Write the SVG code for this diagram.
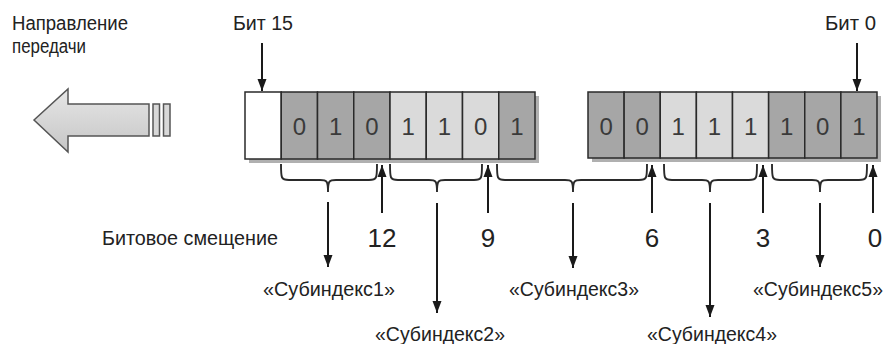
<svg xmlns="http://www.w3.org/2000/svg" width="886" height="344" viewBox="0 0 886 344">
<style>
text{font-family:"Liberation Sans",Arial,sans-serif;fill:#222}
.lbl{font-size:19.5px}
.num{font-size:26px;text-anchor:middle}
.bit{font-size:24px;text-anchor:middle;fill:#3a3a3a}
.dk{fill:#a6a6a6;stroke:#2a2a2a;stroke-width:1.5}
.lt{fill:#dadada;stroke:#2a2a2a;stroke-width:1.5}
.wh{fill:#ffffff;stroke:#2a2a2a;stroke-width:1.5}
.sh{fill:#b0b0b0}
.br{fill:none;stroke:#2a2a2a;stroke-width:1.9}
.ar{stroke:#1a1a1a;stroke-width:2;fill:none;marker-end:url(#ah)}
</style>
<defs>
<marker id="ah" markerUnits="userSpaceOnUse" markerWidth="12" markerHeight="10" refX="12" refY="5" orient="auto">
<path d="M0,0.5 L12,5 L0,9.5 z" fill="#1a1a1a"/>
</marker>
<linearGradient id="ag" x1="0" y1="0" x2="0" y2="1">
<stop offset="0" stop-color="#e6e6e6"/>
<stop offset="1" stop-color="#c6c6c6"/>
</linearGradient>
</defs>

<g id="direction">
<text class="lbl" x="12" y="30" textLength="116" lengthAdjust="spacingAndGlyphs">Направление</text>
<text class="lbl" x="12" y="53" textLength="74" lengthAdjust="spacingAndGlyphs">передачи</text>
<polygon points="34,120 68,89 68,104 149,104 149,136 68,136 68,152" fill="url(#ag)" stroke="#555" stroke-width="1.5"/>
<rect x="153" y="104" width="6.5" height="32" fill="#d8d8d8" stroke="#555" stroke-width="1.5"/>
<rect x="163.5" y="104" width="6.5" height="32" fill="#d8d8d8" stroke="#555" stroke-width="1.5"/>
</g>

<g id="register-high">
<rect class="sh" x="249" y="96" width="290" height="67"/>
<rect class="wh" x="245" y="92" width="36.25" height="67"/>
<rect class="dk" x="281.25" y="92" width="36.25" height="67"/>
<rect class="dk" x="317.5" y="92" width="36.25" height="67"/>
<rect class="dk" x="353.75" y="92" width="36.25" height="67"/>
<rect class="lt" x="390" y="92" width="36.25" height="67"/>
<rect class="lt" x="426.25" y="92" width="36.25" height="67"/>
<rect class="lt" x="462.5" y="92" width="36.25" height="67"/>
<rect class="dk" x="498.75" y="92" width="36.25" height="67"/>
<text class="bit" x="299.4" y="135">0</text>
<text class="bit" x="335.6" y="135">1</text>
<text class="bit" x="371.9" y="135">0</text>
<text class="bit" x="408.1" y="135">1</text>
<text class="bit" x="444.4" y="135">1</text>
<text class="bit" x="480.6" y="135">0</text>
<text class="bit" x="516.9" y="135">1</text>
</g>

<g id="register-low">
<rect class="sh" x="592" y="96" width="289" height="66"/>
<rect class="dk" x="588" y="92" width="36.125" height="66"/>
<rect class="dk" x="624.125" y="92" width="36.125" height="66"/>
<rect class="lt" x="660.25" y="92" width="36.125" height="66"/>
<rect class="lt" x="696.375" y="92" width="36.125" height="66"/>
<rect class="lt" x="732.5" y="92" width="36.125" height="66"/>
<rect class="dk" x="768.625" y="92" width="36.125" height="66"/>
<rect class="dk" x="804.75" y="92" width="36.125" height="66"/>
<rect class="dk" x="840.875" y="92" width="36.125" height="66"/>
<text class="bit" x="606.1" y="135">0</text>
<text class="bit" x="642.2" y="135">0</text>
<text class="bit" x="678.3" y="135">1</text>
<text class="bit" x="714.4" y="135">1</text>
<text class="bit" x="750.6" y="135">1</text>
<text class="bit" x="786.7" y="135">1</text>
<text class="bit" x="822.8" y="135">0</text>
<text class="bit" x="858.9" y="135">1</text>
</g>

<g id="bit15">
<text class="lbl" x="233" y="30" textLength="60" lengthAdjust="spacingAndGlyphs">Бит 15</text>
</g>
<g id="bit0">
<text class="lbl" x="825" y="30" textLength="51" lengthAdjust="spacingAndGlyphs">Бит 0</text>
</g>

<g id="offset-label">
<text class="lbl" x="102" y="245" textLength="176" lengthAdjust="spacingAndGlyphs">Битовое смещение</text>
<text class="num" x="382" y="247">12</text>
<text class="num" x="488" y="247">9</text>
<text class="num" x="652" y="247">6</text>
<text class="num" x="763" y="247">3</text>
<text class="num" x="875" y="247">0</text>
</g>

<g id="sub1"><text class="lbl" x="263" y="296" textLength="132" lengthAdjust="spacingAndGlyphs">«Субиндекс1»</text></g>
<g id="sub2"><text class="lbl" x="375" y="341" textLength="130" lengthAdjust="spacingAndGlyphs">«Субиндекс2»</text></g>
<g id="sub3"><text class="lbl" x="509" y="296" textLength="130" lengthAdjust="spacingAndGlyphs">«Субиндекс3»</text></g>
<g id="sub4"><text class="lbl" x="647" y="341" textLength="130" lengthAdjust="spacingAndGlyphs">«Субиндекс4»</text></g>
<g id="sub5"><text class="lbl" x="753" y="296" textLength="130" lengthAdjust="spacingAndGlyphs">«Субиндекс5»</text></g>

<g id="connectors">
<line class="ar" x1="262" y1="43" x2="262" y2="91"/>
<line class="ar" x1="857" y1="43" x2="857" y2="91"/>
<path class="br" d="M281,164 C281,178 281,180 289,180 L320,180 C327,180 328,181 328,192 C328,181 329,180 336,180 L369,180 C377,180 377,178 377,164"/>
<path class="br" d="M390,164 C390,178 390,180 398,180 L429,180 C436,180 437,181 437,192 C437,181 438,180 445,180 L474,180 C482,180 482,178 482,164"/>
<path class="br" d="M497,164 C497,178 497,180 505,180 L565,180 C572,180 573,181 573,192 C573,181 574,180 581,180 L639,180 C647,180 647,178 647,164"/>
<path class="br" d="M664,164 C664,178 664,180 672,180 L702,180 C709,180 710,181 710,192 C710,181 711,180 718,180 L749,180 C757,180 757,178 757,164"/>
<path class="br" d="M772,164 C772,178 772,180 780,180 L812,180 C819,180 820,181 820,192 C820,181 821,180 828,180 L859,180 C867,180 867,178 867,164"/>
<line class="ar" x1="328" y1="202" x2="328" y2="267"/>
<line class="ar" x1="437" y1="203" x2="437" y2="313"/>
<line class="ar" x1="573" y1="203" x2="573" y2="268"/>
<line class="ar" x1="710" y1="203" x2="710" y2="317"/>
<line class="ar" x1="820" y1="203" x2="820" y2="267"/>
<line class="ar" x1="382" y1="213" x2="382" y2="165"/>
<line class="ar" x1="488" y1="213" x2="488" y2="165"/>
<line class="ar" x1="652" y1="213" x2="652" y2="165"/>
<line class="ar" x1="763" y1="213" x2="763" y2="165"/>
<line class="ar" x1="873" y1="213" x2="873" y2="165"/>
</g>
</svg>
